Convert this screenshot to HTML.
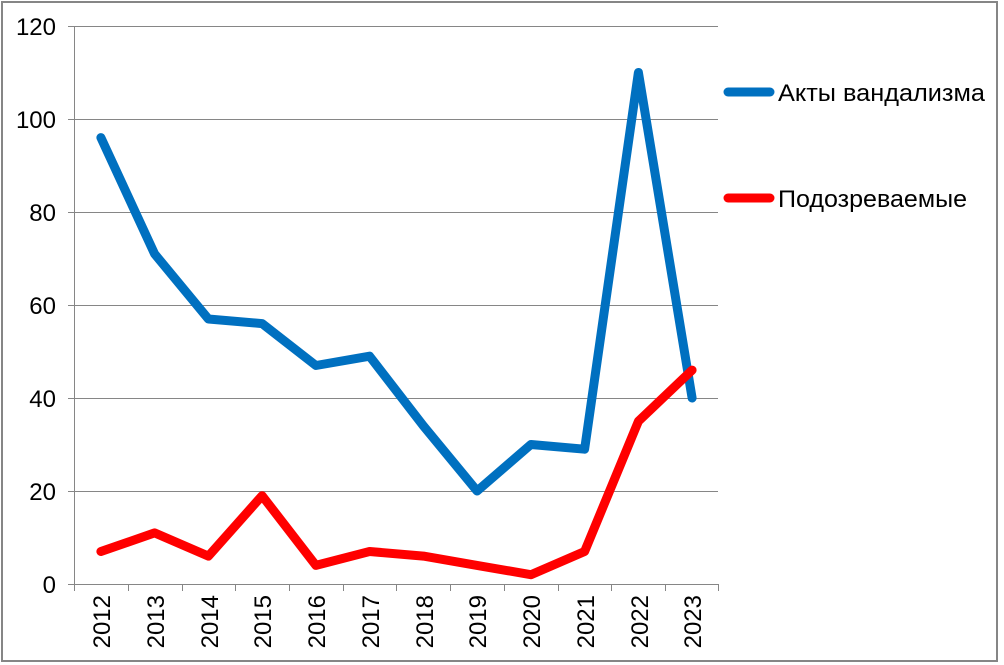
<!DOCTYPE html>
<html><head><meta charset="utf-8"><style>
html,body{margin:0;padding:0;background:#fff;}
svg{display:block;font-family:"Liberation Sans",Arial,sans-serif;}
</style></head><body>
<svg width="1004" height="665" viewBox="0 0 1004 665" xmlns="http://www.w3.org/2000/svg">
<rect x="2" y="2" width="995" height="659" fill="#fff" stroke="#868686" stroke-width="2"/>
<g stroke="#868686" stroke-width="1">
<line x1="68" y1="26.5" x2="718" y2="26.5"/>
<line x1="68" y1="119.5" x2="718" y2="119.5"/>
<line x1="68" y1="212.5" x2="718" y2="212.5"/>
<line x1="68" y1="305.5" x2="718" y2="305.5"/>
<line x1="68" y1="398.5" x2="718" y2="398.5"/>
<line x1="68" y1="491.5" x2="718" y2="491.5"/>
<line x1="68" y1="584.5" x2="718" y2="584.5"/>
<line x1="74.5" y1="26" x2="74.5" y2="591"/>
<line x1="128.5" y1="584" x2="128.5" y2="591"/>
<line x1="182.5" y1="584" x2="182.5" y2="591"/>
<line x1="235.5" y1="584" x2="235.5" y2="591"/>
<line x1="289.5" y1="584" x2="289.5" y2="591"/>
<line x1="343.5" y1="584" x2="343.5" y2="591"/>
<line x1="396.5" y1="584" x2="396.5" y2="591"/>
<line x1="450.5" y1="584" x2="450.5" y2="591"/>
<line x1="504.5" y1="584" x2="504.5" y2="591"/>
<line x1="558.5" y1="584" x2="558.5" y2="591"/>
<line x1="611.5" y1="584" x2="611.5" y2="591"/>
<line x1="665.5" y1="584" x2="665.5" y2="591"/>
<line x1="718.5" y1="584" x2="718.5" y2="591"/>
</g>
<g font-size="24" text-anchor="end" fill="#000">
<text x="56" y="35">120</text>
<text x="56" y="128">100</text>
<text x="56" y="221">80</text>
<text x="56" y="314">60</text>
<text x="56" y="407">40</text>
<text x="56" y="500">20</text>
<text x="56" y="593">0</text>
</g>
<g font-size="24" text-anchor="end" fill="#000">
<text transform="translate(110,595) rotate(-90)">2012</text>
<text transform="translate(164,595) rotate(-90)">2013</text>
<text transform="translate(218,595) rotate(-90)">2014</text>
<text transform="translate(271,595) rotate(-90)">2015</text>
<text transform="translate(325,595) rotate(-90)">2016</text>
<text transform="translate(379,595) rotate(-90)">2017</text>
<text transform="translate(433,595) rotate(-90)">2018</text>
<text transform="translate(486,595) rotate(-90)">2019</text>
<text transform="translate(540,595) rotate(-90)">2020</text>
<text transform="translate(594,595) rotate(-90)">2021</text>
<text transform="translate(648,595) rotate(-90)">2022</text>
<text transform="translate(701,595) rotate(-90)">2023</text>
</g>
<polyline fill="none" stroke="#0070C0" stroke-width="9" stroke-linejoin="round" stroke-linecap="round"
points="100.9,137.6 154.6,253.9 208.4,319 262.1,323.6 315.9,365.5 369.6,356.2 423.4,425.9 477.1,491 530.9,444.5 584.6,449.2 638.4,72.5 692.1,398"/>
<polyline fill="none" stroke="#FF0000" stroke-width="9" stroke-linejoin="round" stroke-linecap="round"
points="100.9,551.5 154.6,532.9 208.4,556.1 262.1,495.7 315.9,565.4 369.6,551.5 423.4,556.1 477.1,565.4 530.9,574.7 584.6,551.5 638.4,421.3 692.1,370.1"/>
<line x1="728" y1="92" x2="770" y2="92" stroke="#0070C0" stroke-width="9" stroke-linecap="round"/>
<line x1="728" y1="198" x2="770" y2="198" stroke="#FF0000" stroke-width="9" stroke-linecap="round"/>
<text x="778" y="101" font-size="24" fill="#000" textLength="207" lengthAdjust="spacingAndGlyphs">Акты вандализма</text>
<text x="778" y="207" font-size="24" fill="#000" textLength="189" lengthAdjust="spacingAndGlyphs">Подозреваемые</text>
</svg>
</body></html>
